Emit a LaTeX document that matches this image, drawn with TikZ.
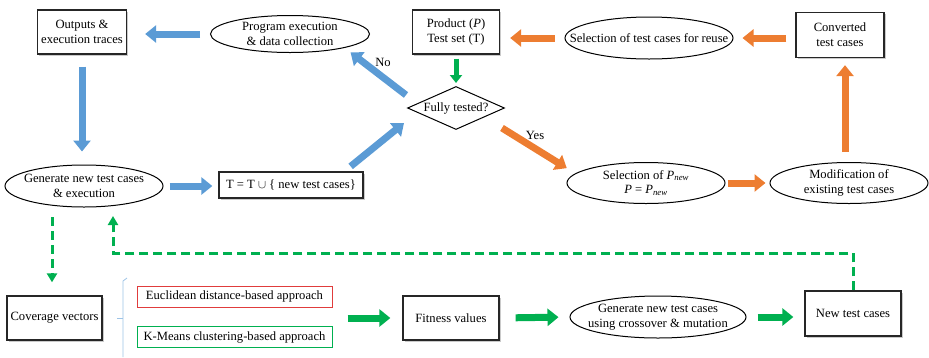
\documentclass[tikz,border=0pt]{standalone}
\usepackage{fontspec}
\setmainfont{Liberation Serif}
\usetikzlibrary{shapes.geometric,arrows.meta,calc,shadows}
\definecolor{ablue}{HTML}{5B9BD5}
\definecolor{aorange}{HTML}{ED7D31}
\definecolor{agreen}{HTML}{00B050}
\definecolor{ared}{HTML}{E03C3C}
\definecolor{abrk}{HTML}{9DC3E6}
\begin{document}
\begin{tikzpicture}[x=1pt,y=-1pt,
  font=\fontsize{12.6}{14.8}\selectfont,
  box/.style={draw=black!85,line width=1.3pt,fill=white,align=center,inner sep=0pt,
    drop shadow={shadow xshift=1.5pt,shadow yshift=-1.5pt,fill=black!35,opacity=0.6}},
  ell/.style={ellipse,draw=black,line width=1pt,fill=white,align=center,inner xsep=-22pt,inner ysep=-8pt},
  dia/.style={diamond,draw=black,line width=1pt,fill=white,align=center,inner xsep=-8pt,inner ysep=-4pt},
  tag/.style={draw,line width=1pt,fill=white,inner sep=0pt,minimum width=195pt,minimum height=21pt},
  barrow/.style={draw=ablue,line width=7pt,-{Triangle[width=17pt,length=11pt]}},
  oarrow/.style={draw=aorange,line width=7pt,-{Triangle[width=17pt,length=11pt]}},
  garrow/.style={draw=agreen,line width=7pt,-{Triangle[width=17pt,length=11pt]}},
  gthin/.style={draw=agreen,line width=5pt,-{Triangle[width=12pt,length=8pt]}},
  gdash/.style={draw=agreen,line width=3pt,dash pattern=on 9pt off 5pt,-{Triangle[width=10pt,length=9pt]}},
  lbl/.style={inner sep=0pt}]
\useasboundingbox (0,0) rectangle (929,357);

% top row
\node[box,minimum width=89pt,minimum height=44pt] (out) at (82,32) {Outputs \&\\execution traces};
\node[ell,minimum width=159pt,minimum height=37pt] (prog) at (290,34) {Program execution\\\& data collection};
\node[box,minimum width=87pt,minimum height=44pt] (prod) at (456,32) {Product (\textit{P})\\Test set (T)};
\node[ell,minimum width=168pt,minimum height=42pt] (sel) at (649,38) {Selection of test cases for reuse};
\node[box,minimum width=88pt,minimum height=45pt] (conv) at (840,35) {Converted\\test cases};

% middle row
\node[dia,minimum width=97pt,minimum height=43pt,aspect=2.25] (full) at (456,108) {Fully tested?};
\node[ell,minimum width=158pt,minimum height=42pt] (gen) at (84,186) {Generate new test cases\\\& execution};
\node[box,minimum width=144pt,minimum height=26pt] (tset) at (291,185) {T = T $\cup$ \{ new test cases\}};
\node[ell,minimum width=158pt,minimum height=41pt] (selnew) at (646,183) {Selection of \textit{P}\textsubscript{\textit{new}}\\\textit{P} = \textit{P}\textsubscript{\textit{new}}};
\node[ell,minimum width=158pt,minimum height=41pt] (mod) at (849,183) {Modification of\\existing test cases};

% bottom row
\node[box,minimum width=95pt,minimum height=44pt] (cov) at (54.5,318) {Coverage vectors};
\node[tag,draw=ared] (eucl) at (234.5,296.5) {Euclidean distance-based approach};
\node[tag,draw=agreen] (kmeans) at (234.5,337) {K-Means clustering-based approach};
\node[box,minimum width=96pt,minimum height=44pt] (fit) at (451,318) {Fitness values};
\node[ell,minimum width=176pt,minimum height=42pt] (cross) at (658,317) {Generate new test cases\\using crossover \& mutation};
\node[box,minimum width=96pt,minimum height=45pt] (newtc) at (853,313.5) {New test cases};

% bracket
\draw[abrk,line width=0.8pt] (127,278) -- (123,281) -- (123,357);
\draw[abrk,line width=0.8pt] (117,318) -- (123,318);

% blue arrows
\draw[barrow,shorten <=10pt,shorten >=18pt] (prog.west) -- (prog.west -| out.east);
\draw[barrow,shorten <=12pt,shorten >=13pt] (out.south) -- (out.south |- gen.north);
\draw[barrow,shorten <=6pt,shorten >=6pt] (gen.east) -- (gen.east -| tset.west);
\draw[barrow] ($(tset.north east)+(-13,-5)$) -- ($(full.west)+(-3,15)$);
\draw[barrow] ($(full.west)+(-1,-13)$) -- ($(prog.south east)+(4,5)$);
\node[lbl] (no) at (383,62) {No};

% green from product
\draw[gthin,shorten <=4pt,shorten >=3pt] (prod.south) -- (full.north);

% orange arrows
\draw[oarrow] ($(full.east)+(-3,20)$) -- ($(selnew.north west)+(-23,0)$);
\node[lbl] (yes) at (535,135) {Yes};
\draw[oarrow,shorten <=2pt,shorten >=4pt] (selnew.east) -- (mod.west);
\draw[oarrow] ($(mod.north)+(-4,-10)$) -- ($(conv.south)+(5,7)$);
\draw[oarrow,shorten <=9pt,shorten >=9pt] (conv.west |- sel.east) -- (sel.east);
\draw[oarrow,shorten <=10pt,shorten >=10pt] (sel.west) -- (sel.west -| prod.east);

% green bottom arrows
\draw[garrow,shorten <=15pt,shorten >=12pt] (eucl.east |- cov.east) -- (fit.west);
\draw[garrow,shorten <=16pt,shorten >=11pt] (fit.east) -- (cross.west);
\draw[garrow,shorten <=11pt,shorten >=11pt] (cross.east) -- (cross.east -| newtc.west);

% dashed green
\coordinate (dl) at (113,253);
\coordinate (gtip) at (113,216);
\draw[gdash] (newtc.north) |- (dl) -- (gtip);
\coordinate (gd1) at (52,217);
\draw[gdash,shorten >=13pt] (gd1) -- (gd1 |- cov.north);
\end{tikzpicture}
\end{document}
